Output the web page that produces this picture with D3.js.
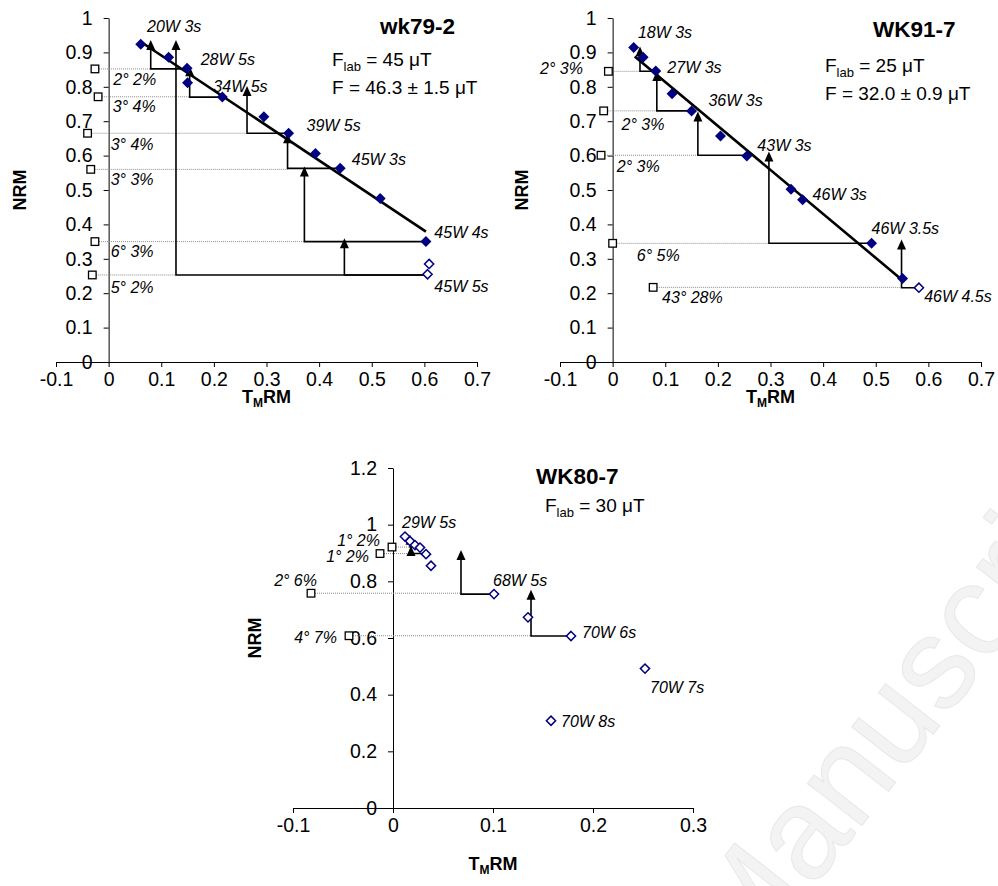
<!DOCTYPE html>
<html>
<head>
<meta charset="utf-8">
<script src="https://cdn.jsdelivr.net/npm/d3@7"></script>
<style>
  body { margin: 0; background: #fff; }
  svg { display: block; }
  text { font-family: Arial, "Liberation Sans", sans-serif; }
</style>
</head>
<body>
<script>
"use strict";

// ---- wk79-2 ----
const wk79NrmX = [0.061, 0.114, 0.149, 0.150, 0.216, 0.295, 0.342, 0.393, 0.440, 0.516, 0.603];
const wk79NrmY = [0.924, 0.886, 0.854, 0.812, 0.770, 0.713, 0.665, 0.606, 0.563, 0.475, 0.350];
const wk79OpenX = [0.609, 0.606];
const wk79OpenY = [0.285, 0.255];
const wk79Fit = [[0.061, 0.931], [0.603, 0.379]];
// pTRM checks: [x of check, y of arrow tip, y of step, x of step]
const wk79Checks = [
  [0.080, 0.936, 0.852, 0.149],
  [0.128, 0.936, 0.253, 0.606],
  [0.154, 0.860, 0.770, 0.216],
  [0.263, 0.802, 0.665, 0.342],
  [0.340, 0.665, 0.563, 0.440],
  [0.372, 0.568, 0.350, 0.603],
  [0.448, 0.360, 0.253, 0.606]
];
const wk79TailX = [-0.026, -0.020, -0.040, -0.034, -0.026, -0.031];
const wk79TailY = [0.852, 0.771, 0.665, 0.560, 0.350, 0.253];
const wk79TailTo = [0.080, 0.154, 0.263, 0.340, 0.372, 0.128];
const wk79TailLabels = ["2° 2%", "3° 4%", "3° 4%", "3° 3%", "6° 3%", "5° 2%"];
const wk79TailLabelX = [0.009, 0.008, 0.004, 0.004, 0.004, 0.004];
const wk79TailLabelY = [0.805, 0.728, 0.616, 0.515, 0.306, 0.200];
const wk79Steps = ["20W 3s", "28W 5s", "34W 5s", "39W 5s", "45W 3s", "45W 4s", "45W 5s"];
const wk79StepX = [0.073, 0.175, 0.199, 0.376, 0.462, 0.619, 0.619];
const wk79StepY = [0.959, 0.863, 0.786, 0.672, 0.573, 0.361, 0.204];

// ---- WK91-7 ----
const wk91NrmX = [0.040, 0.058, 0.082, 0.113, 0.150, 0.205, 0.255, 0.339, 0.361, 0.492, 0.551];
const wk91NrmY = [0.914, 0.886, 0.846, 0.780, 0.730, 0.657, 0.599, 0.502, 0.472, 0.345, 0.243];
const wk91OpenX = [0.582];
const wk91OpenY = [0.216];
const wk91Fit = [[0.042, 0.888], [0.549, 0.240]];
const wk91Checks = [
  [0.052, 0.917, 0.845, 0.082],
  [0.084, 0.846, 0.730, 0.150],
  [0.162, 0.728, 0.601, 0.255],
  [0.297, 0.612, 0.345, 0.492],
  [0.549, 0.356, 0.216, 0.582]
];
const wk91TailX = [-0.008, -0.017, -0.022, 0.000, 0.077];
const wk91TailY = [0.845, 0.730, 0.601, 0.345, 0.217];
const wk91TailTo = [0.052, 0.084, 0.162, 0.297, 0.549];
const wk91TailLabels = ["2° 3%", "2° 3%", "2° 3%", "6° 5%", "43° 28%"];
const wk91TailLabelX = [-0.138, 0.017, 0.008, 0.046, 0.094];
const wk91TailLabelY = [0.838, 0.675, 0.553, 0.293, 0.172];
const wk91Steps = ["18W 3s", "27W 3s", "36W 3s", "43W 3s", "46W 3s", "46W 3.5s", "46W 4.5s"];
const wk91StepX = [0.048, 0.104, 0.182, 0.275, 0.380, 0.492, 0.592];
const wk91StepY = [0.942, 0.840, 0.743, 0.612, 0.471, 0.373, 0.175];

// ---- WK80-7 ----
const wk80OpenX = [0.012, 0.017, 0.022, 0.027, 0.033, 0.038, 0.101, 0.135, 0.178, 0.252, 0.158];
const wk80OpenY = [0.958, 0.942, 0.928, 0.919, 0.896, 0.855, 0.755, 0.673, 0.607, 0.492, 0.308];
const wk80Checks = [
  [0.017, 0.964, 0.921, 0.027],
  [0.018, 0.925, 0.898, 0.033],
  [0.068, 0.911, 0.755, 0.101],
  [0.138, 0.770, 0.607, 0.178]
];
const wk80TailX = [-0.001, -0.013, -0.082, -0.044];
const wk80TailY = [0.921, 0.898, 0.758, 0.608];
const wk80TailTo = [0.017, 0.018, 0.068, 0.138];
const wk80TailLabels = ["1° 2%", "1° 2%", "2° 6%", "4° 7%"];
const wk80TailLabelX = [-0.013, -0.024, -0.076, -0.056];
const wk80TailLabelY = [0.925, 0.870, 0.785, 0.581];
const wk80Steps = ["29W 5s", "68W 5s", "70W 6s", "70W 7s", "70W 8s"];
const wk80StepX = [0.009, 0.100, 0.189, 0.257, 0.168];
const wk80StepY = [0.987, 0.785, 0.599, 0.405, 0.285];

// tick values
const topXTicks = [-0.1, 0, 0.1, 0.2, 0.3, 0.4, 0.5, 0.6, 0.7];
const topYTicks = [0, 0.1, 0.2, 0.3, 0.4, 0.5, 0.6, 0.7, 0.8, 0.9, 1];
const bottomXTicks = [-0.1, 0, 0.1, 0.2, 0.3];
const bottomYTicks = [0, 0.2, 0.4, 0.6, 0.8, 1, 1.2];

const NAVY = "#000080";
const W = 998, H = 886;

const svg = d3.select("body").append("svg").attr("width", W).attr("height", H);

// faint watermark
svg.append("text")
  .attr("transform", "translate(745,975) rotate(-52)")
  .style("font-size", "130px").style("fill", "#f3f3f3").style("stroke", "#e8e8e8").style("stroke-width", 1)
  .text("Manuscript");

let fmt = d => String(+d.toFixed(1));

function diamondPath(cx, cy, r) {
  return `M${cx},${cy - r}L${cx + r},${cy}L${cx},${cy + r}L${cx - r},${cy}Z`;
}

function drawArai(p) {
  let x = d3.scaleLinear().domain(p.xDomain).range(p.xRange);
  let y = d3.scaleLinear().domain(p.yDomain).range(p.yRange);
  let g = svg.append("g");

  // axes
  let yAxis = d3.axisLeft(y).tickValues(p.yTicks).tickFormat(fmt).tickSize(5).tickPadding(11).tickSizeOuter(0);
  let xAxis = d3.axisBottom(x).tickValues(p.xTicks).tickFormat(fmt).tickSize(5).tickPadding(5).tickSizeOuter(0);
  g.append("g").attr("transform", `translate(0,${y(0)})`).call(xAxis);
  g.append("g").attr("transform", `translate(${x(0)},0)`).call(yAxis);
  g.selectAll(".tick text").style("font-size", "19.5px").style("font-family", "Arial, 'Liberation Sans', sans-serif").attr("fill", "#000");
  g.selectAll(".domain, .tick line").attr("stroke", "#000");

  // axis titles
  g.append("text")
    .attr("transform", `translate(${p.nrmTitleX},${(p.yRange[0] + p.yRange[1]) / 2}) rotate(-90)`)
    .attr("text-anchor", "middle").style("font-size", "18px").style("font-weight", "bold")
    .text("NRM");
  let tm = g.append("text")
    .attr("x", (p.xRange[0] + p.xRange[1]) / 2).attr("y", p.tmTitleY)
    .attr("text-anchor", "middle").style("font-size", "18px").style("font-weight", "bold");
  tm.append("tspan").text("T");
  tm.append("tspan").attr("dy", 4).style("font-size", "12px").text("M");
  tm.append("tspan").attr("dy", -4).text("RM");

  // dotted lines from tail checks
  g.selectAll(".tail-line").data(p.tailX).enter().append("line")
    .attr("x1", (d, i) => x(d) + 4).attr("x2", (d, i) => x(p.tailTo[i]))
    .attr("y1", (d, i) => y(p.tailY[i])).attr("y2", (d, i) => y(p.tailY[i]))
    .attr("stroke", "#8c8c8c").attr("stroke-width", 1).attr("stroke-dasharray", "1,1");

  // pTRM check arrows
  p.checks.forEach(c => {
    let cx = x(c[0]), tip = y(c[1]), base = y(c[2]), ex = x(c[3]);
    g.append("path")
      .attr("d", `M${ex},${base}H${cx}V${tip + 6}`)
      .attr("fill", "none").attr("stroke", "#000").attr("stroke-width", 1.6);
    g.append("path")
      .attr("d", `M${cx},${tip}L${cx + 4.5},${tip + 10}L${cx - 4.5},${tip + 10}Z`)
      .attr("fill", "#000");
  });

  // fit line
  if (p.fit) {
    g.append("line")
      .attr("x1", x(p.fit[0][0])).attr("y1", y(p.fit[0][1]))
      .attr("x2", x(p.fit[1][0])).attr("y2", y(p.fit[1][1]))
      .attr("stroke", "#000").attr("stroke-width", 2.6);
  }

  // tail check squares
  g.selectAll(".sq").data(p.tailX).enter().append("rect")
    .attr("x", (d) => x(d) - 3.8).attr("y", (d, i) => y(p.tailY[i]) - 3.8)
    .attr("width", 7.6).attr("height", 7.6)
    .attr("fill", "#fff").attr("stroke", "#000").attr("stroke-width", 1.3);

  // NRM points
  if (p.nrmX) {
    g.selectAll(".nrm").data(p.nrmX).enter().append("path")
      .attr("d", (d, i) => diamondPath(x(d), y(p.nrmY[i]), 5.5))
      .attr("fill", NAVY);
  }
  g.selectAll(".open").data(p.openX).enter().append("path")
    .attr("d", (d, i) => diamondPath(x(d), y(p.openY[i]), 4.6))
    .attr("fill", "#fff").attr("stroke", NAVY).attr("stroke-width", 1.5);

  // labels
  g.selectAll(".step").data(p.steps).enter().append("text")
    .attr("x", (d, i) => x(p.stepX[i])).attr("y", (d, i) => y(p.stepY[i]))
    .style("font-size", "16px").style("font-style", "italic").text(d => d);
  g.selectAll(".tail-label").data(p.tailLabels).enter().append("text")
    .attr("x", (d, i) => x(p.tailLabelX[i])).attr("y", (d, i) => y(p.tailLabelY[i]))
    .attr("text-anchor", p.tailAnchor)
    .style("font-size", "16px").style("font-style", "italic").text(d => d);

  // title and field values
  g.append("text").attr("x", p.titleX).attr("y", p.titleY)
    .style("font-size", "22.5px").style("font-weight", "bold").text(p.title);
  p.fields.forEach((f, i) => {
    let t = g.append("text").attr("x", p.fieldX).attr("y", p.fieldY[i]).style("font-size", "19px");
    if (f.sub) {
      t.append("tspan").text("F");
      t.append("tspan").attr("dy", 5).style("font-size", "13px").text(f.sub);
      t.append("tspan").attr("dy", -5).text(f.text);
    } else {
      t.text(f.text);
    }
  });
}

drawArai({
  xDomain: [-0.1, 0.7], yDomain: [0, 1], xRange: [56, 477], yRange: [362, 18],
  xTicks: topXTicks, yTicks: topYTicks,
  nrmX: wk79NrmX, nrmY: wk79NrmY, openX: wk79OpenX, openY: wk79OpenY,
  fit: wk79Fit, checks: wk79Checks,
  tailX: wk79TailX, tailY: wk79TailY, tailTo: wk79TailTo,
  tailLabels: wk79TailLabels, tailLabelX: wk79TailLabelX, tailLabelY: wk79TailLabelY, tailAnchor: "start",
  steps: wk79Steps, stepX: wk79StepX, stepY: wk79StepY,
  nrmTitleX: 26, tmTitleY: 403,
  title: "wk79-2", titleX: 380, titleY: 34,
  fields: [{ sub: "lab", text: " = 45 μT" }, { text: "F = 46.3 ± 1.5 μT" }],
  fieldX: 332, fieldY: [66, 94]
});

drawArai({
  xDomain: [-0.1, 0.7], yDomain: [0, 1], xRange: [560, 981], yRange: [362, 18],
  xTicks: topXTicks, yTicks: topYTicks,
  nrmX: wk91NrmX, nrmY: wk91NrmY, openX: wk91OpenX, openY: wk91OpenY,
  fit: wk91Fit, checks: wk91Checks,
  tailX: wk91TailX, tailY: wk91TailY, tailTo: wk91TailTo,
  tailLabels: wk91TailLabels, tailLabelX: wk91TailLabelX, tailLabelY: wk91TailLabelY, tailAnchor: "start",
  steps: wk91Steps, stepX: wk91StepX, stepY: wk91StepY,
  nrmTitleX: 528, tmTitleY: 403,
  title: "WK91-7", titleX: 873, titleY: 37,
  fields: [{ sub: "lab", text: " = 25 μT" }, { text: "F = 32.0 ± 0.9 μT" }],
  fieldX: 825, fieldY: [72, 100]
});

drawArai({
  xDomain: [-0.1, 0.3], yDomain: [0, 1.2], xRange: [293, 693], yRange: [808, 468],
  xTicks: bottomXTicks, yTicks: bottomYTicks,
  nrmX: null, openX: wk80OpenX, openY: wk80OpenY,
  fit: null, checks: wk80Checks,
  tailX: wk80TailX, tailY: wk80TailY, tailTo: wk80TailTo,
  tailLabels: wk80TailLabels, tailLabelX: wk80TailLabelX, tailLabelY: wk80TailLabelY, tailAnchor: "end",
  steps: wk80Steps, stepX: wk80StepX, stepY: wk80StepY,
  nrmTitleX: 261, tmTitleY: 870,
  title: "WK80-7", titleX: 536, titleY: 484,
  fields: [{ sub: "lab", text: " = 30 μT" }],
  fieldX: 545, fieldY: [512]
});
</script>
</body>
</html>
